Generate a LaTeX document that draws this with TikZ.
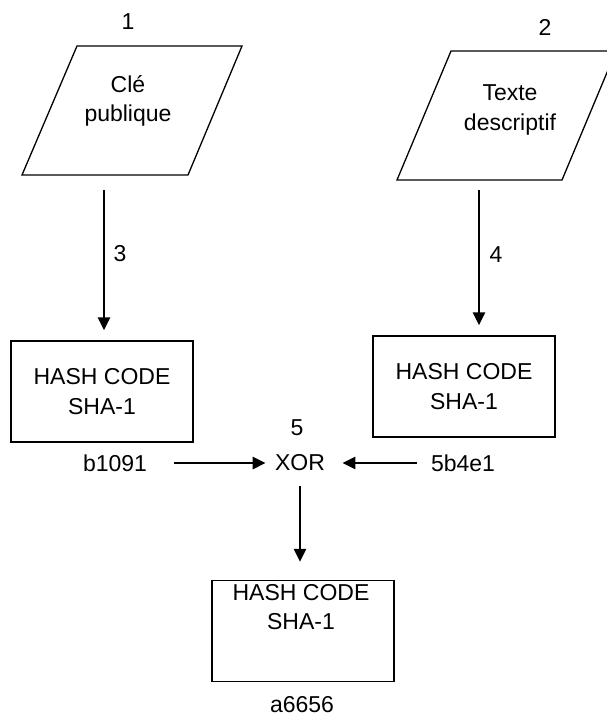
\documentclass[tikz,border=0pt]{standalone}
\usepackage{fontspec}
\setmainfont{Liberation Sans}
\usetikzlibrary{arrows.meta,positioning,calc}

\tikzset{
	hashbox/.style={draw,line width=0.65pt,minimum width=91pt,minimum height=50.5pt,inner sep=0pt,align=center,font=\fontsize{11.5}{14.8}\selectfont},
	txt/.style={align=center,inner sep=0pt,font=\fontsize{11.5}{14.8}\selectfont},
	flow/.style={-{Triangle[length=6.5pt,width=6pt]},line width=1.35pt},
	entree/.style={line width=0.65pt}
}

\begin{document}
\begin{tikzpicture}[x=0.5pt,y=-0.5pt]
	\useasboundingbox (0,0) rectangle (606,715);
	% les deux entrees
	\draw[entree] (77,46) -- (242,46) -- (188,175) -- (22,175) -- cycle;
	\draw[entree] (451,51) -- (616,51) -- (562,180) -- (397,180) -- cycle;
	\node[txt] (cle) at (128,101) {Clé\\publique};
	\node[txt] (texte) at (510,110) {Texte\\descriptif};
	\node[txt] (n1) at (128,22) {1};
	\node[txt] (n2) at (545,27) {2};
	\coordinate (cle out) at (104,190);
	\coordinate (texte out) at (479,190);
	% hachages
	\node[hashbox] (h1) at (102,391.5) {HASH CODE\\SHA-1};
	\node[hashbox] (h2) at (464,386.5) {HASH CODE\\SHA-1};
	\draw[flow,shorten >=5pt] (cle out) -- (cle out |- h1.north);
	\draw[flow,shorten >=5pt] (texte out) -- (texte out |- h2.north);
	\node[txt] (n3) at (120,254) {3};
	\node[txt] (n4) at (496,255) {4};
	% xor
	\node[txt] (xor) at (300,463) {XOR};
	\node[txt] (n5) at (297,428) {5};
	\node[txt] (b1091) at (115,463) {b1091};
	\node[txt] (5b4e1) at (463,463) {5b4e1};
	\draw[flow,shorten <=13.5pt,shorten >=4.5pt] (b1091) -- (xor);
	\draw[flow,shorten <=7pt,shorten >=8.5pt] (5b4e1) -- (xor);
	% resultat
	\node[hashbox] (h3) at (303,631) {};
	\node[txt] (h3 text) at (301,607) {HASH CODE\\SHA-1};
	\draw[flow,shorten <=7pt,shorten >=9pt] (xor) -- (xor |- h3.north);
	\node[txt] (a6656) at (302,705) {a6656};
\end{tikzpicture}
\end{document}
